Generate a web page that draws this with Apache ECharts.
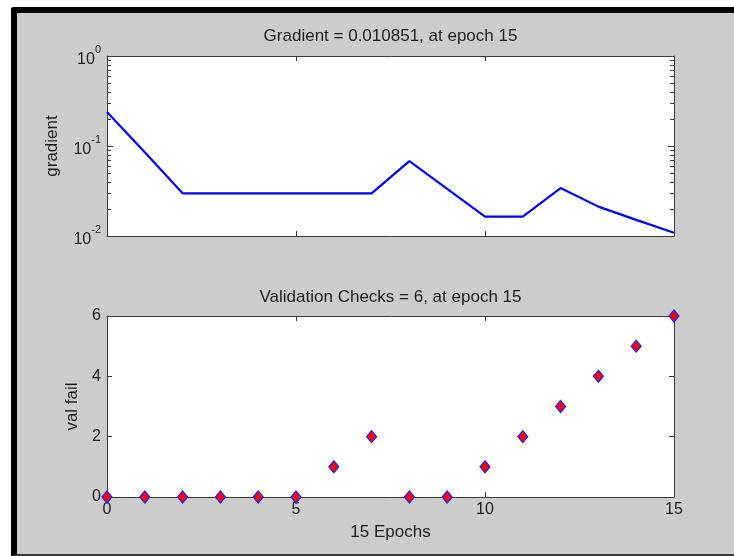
<!DOCTYPE html>
<html>
<head>
<meta charset="utf-8">
<script src="https://cdn.jsdelivr.net/npm/echarts@6/dist/echarts.min.js"></script>
<style>
  html, body { margin: 0; padding: 0; background: #ffffff; width: 734px; height: 556px; overflow: hidden; }
  #frame { position: absolute; left: 11px; top: 7px; width: 723px; height: 549px; box-sizing: border-box;
           border-left: 6px solid #000; border-top: 6px solid #000; border-bottom: 2px solid #3a3a3a;
           border-top-left-radius: 3px; background: #cccccc; }
  #chart { position: absolute; left: 0; top: 0; width: 734px; height: 556px; }
</style>
</head>
<body>
<div id="frame"></div>
<div id="chart"></div>
<script>
// ---- data ----
const epochs = [0, 1, 2, 3, 4, 5, 6, 7, 8, 9, 10, 11, 12, 13, 14, 15];
const gradientValues = [0.239, 0.085, 0.0298, 0.0298, 0.0298, 0.0298, 0.0298, 0.0298, 0.068, 0.0334, 0.0164, 0.0164, 0.0341, 0.0212, 0.0151, 0.010851];
const valFail = [0, 0, 0, 0, 0, 0, 1, 2, 0, 0, 1, 2, 3, 4, 5, 6];
const gradMinorTicks = [0.02, 0.03, 0.04, 0.05, 0.06, 0.07, 0.08, 0.09, 0.2, 0.3, 0.4, 0.5, 0.6, 0.7, 0.8, 0.9];
const titleTop = 'Gradient = 0.010851, at epoch 15';
const titleBottom = 'Validation Checks = 6, at epoch 15';
const yNameTop = 'gradient';
const yNameBottom = 'val fail';
const xNameBottom = '15 Epochs';

// ---- style ----
const FONT = 'Liberation Sans, Arial, Helvetica, sans-serif';
const AX = '#3a3a3a';
const TXT = '#1e1e1e';

const chart = echarts.init(document.getElementById('chart'), null, { renderer: 'canvas' });

function xAx(gridIndex, pos, showLabel, name) {
  return {
    type: 'value', gridIndex, position: pos, min: 0, max: 15, interval: 5,
    axisLine: { show: true, onZero: false, lineStyle: { color: AX, width: 1 } },
    axisTick: { show: true, inside: true, length: 5, lineStyle: { color: AX } },
    axisLabel: { show: showLabel, margin: 5, color: TXT, fontSize: 16, fontFamily: FONT },
    splitLine: { show: false },
    name: name || '', nameLocation: 'middle', nameGap: 27,
    nameTextStyle: { color: TXT, fontSize: 17, fontFamily: FONT }
  };
}

const logLabel = {
  show: true, margin: 6,
  formatter: v => '{b|10}{s|' + Math.round(Math.log10(v)) + '}',
  rich: {
    b: { fontSize: 16, lineHeight: 24, verticalAlign: 'bottom', color: TXT, fontFamily: FONT },
    s: { fontSize: 11, lineHeight: 11, verticalAlign: 'top', color: TXT, fontFamily: FONT }
  }
};

function yAxLog(pos, showLabel, name) {
  return {
    type: 'log', logBase: 10, gridIndex: 0, position: pos, min: 0.01, max: 1,
    axisLine: { show: true, onZero: false, lineStyle: { color: AX, width: 1 } },
    axisTick: { show: true, inside: true, length: 6, lineStyle: { color: AX } },
    axisLabel: showLabel ? logLabel : { show: false },
    splitLine: { show: false }, minorTick: { show: false },
    name: name || '', nameLocation: 'middle', nameGap: 46,
    nameTextStyle: { color: TXT, fontSize: 17, fontFamily: FONT }
  };
}

function yAxVal(pos, showLabel, name) {
  return {
    type: 'value', gridIndex: 1, position: pos, min: 0, max: 6, interval: 2,
    axisLine: { show: true, onZero: false, lineStyle: { color: AX, width: 1 } },
    axisTick: { show: true, inside: true, length: 5, lineStyle: { color: AX } },
    axisLabel: { show: showLabel, margin: 6, color: TXT, fontSize: 16, fontFamily: FONT },
    splitLine: { show: false },
    name: name || '', nameLocation: 'middle', nameGap: 25,
    nameTextStyle: { color: TXT, fontSize: 17, fontFamily: FONT }
  };
}

const option = {
  animation: false,
  backgroundColor: 'transparent',
  title: [
    { text: titleTop, left: 390.5, top: 36.5, textAlign: 'center', textVerticalAlign: 'middle', padding: 0,
      textStyle: { color: TXT, fontSize: 17, fontWeight: 'normal', fontFamily: FONT } },
    { text: titleBottom, left: 390.5, top: 297.5, textAlign: 'center', textVerticalAlign: 'middle', padding: 0,
      textStyle: { color: TXT, fontSize: 17, fontWeight: 'normal', fontFamily: FONT } }
  ],
  grid: [
    { left: 107, top: 56, width: 567, height: 180, show: true, backgroundColor: '#ffffff', borderWidth: 0 },
    { left: 107, top: 316, width: 567, height: 181, show: true, backgroundColor: '#ffffff', borderWidth: 0 }
  ],
  xAxis: [
    xAx(0, 'bottom', false),
    xAx(0, 'top', false),
    xAx(1, 'bottom', true, xNameBottom),
    xAx(1, 'top', false)
  ],
  yAxis: [
    yAxLog('left', true, yNameTop),
    yAxLog('right', false),
    yAxVal('left', true, yNameBottom),
    yAxVal('right', false)
  ],
  series: [
    {
      type: 'line', xAxisIndex: 0, yAxisIndex: 0,
      data: epochs.map((e, i) => [e, gradientValues[i]]),
      showSymbol: false, symbol: 'none',
      lineStyle: { color: '#0000ff', width: 2.2 },
      itemStyle: { color: '#0000ff' }
    },
    {
      type: 'custom', xAxisIndex: 0, yAxisIndex: 0, silent: true,
      data: gradMinorTicks.map(v => [0, v]),
      renderItem: function (params, api) {
        const cs = params.coordSys;
        const y = Math.round(api.coord([0, api.value(1)])[1]) + 0.5;
        const xl = cs.x, xr = cs.x + cs.width;
        return {
          type: 'group',
          children: [
            { type: 'line', shape: { x1: xl, y1: y, x2: xl + 4, y2: y }, style: { stroke: AX, lineWidth: 1 } },
            { type: 'line', shape: { x1: xr - 4, y1: y, x2: xr, y2: y }, style: { stroke: AX, lineWidth: 1 } }
          ]
        };
      }
    },
    {
      type: 'scatter', xAxisIndex: 2, yAxisIndex: 2, clip: false,
      data: epochs.map((e, i) => [e, valFail[i]]),
      symbol: 'diamond', symbolSize: [10, 12],
      itemStyle: { color: '#ff0000', borderColor: '#2020ff', borderWidth: 1.2, opacity: 1 },
      z: 5
    }
  ]
};
chart.setOption(option);
</script>
</body>
</html>
